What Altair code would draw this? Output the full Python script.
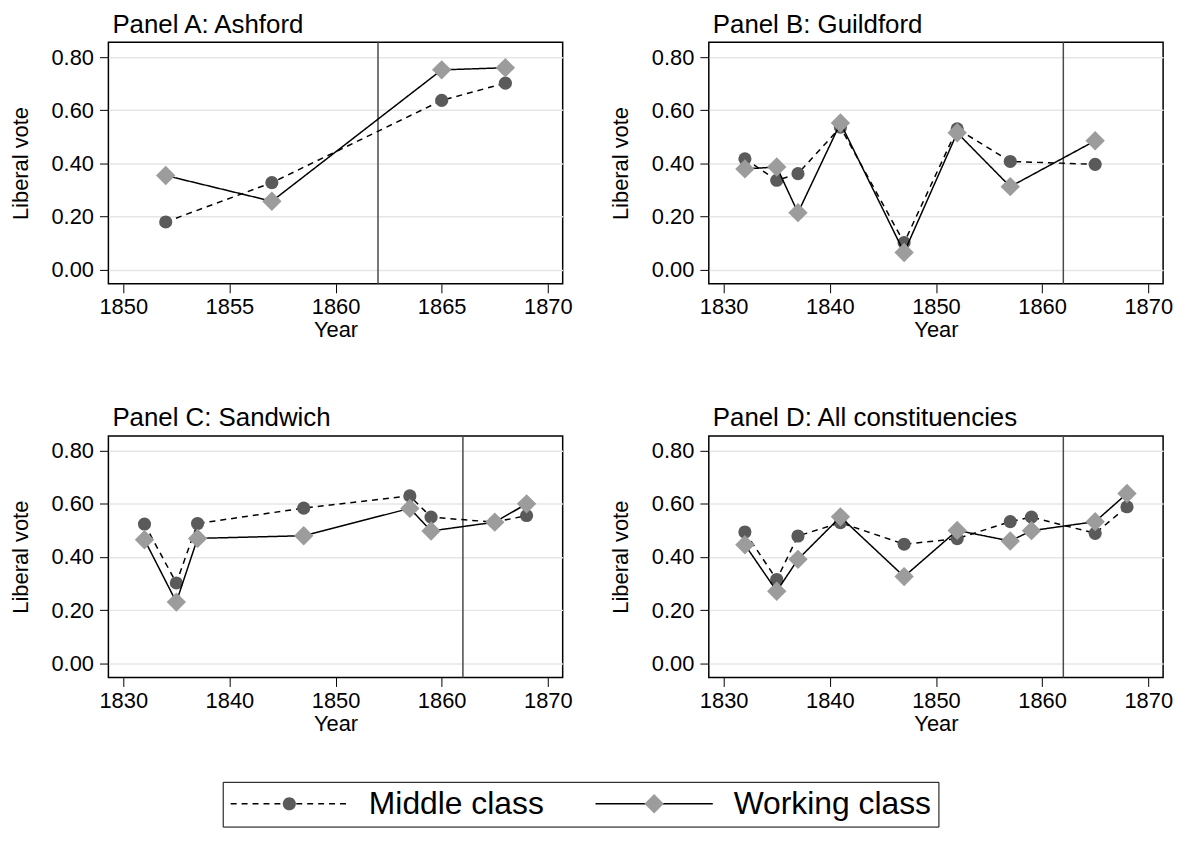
import altair as alt
import pandas as pd

series_names = ["Middle class", "Working class"]
panel_titles = ["Panel A: Ashford", "Panel B: Guildford",
                "Panel C: Sandwich", "Panel D: All constituencies"]
reform_year = 1862

a_years = [1852, 1857, 1865, 1868]
a_middle = [0.179, 0.327, 0.637, 0.702]
a_working = [0.354, 0.257, 0.752, 0.760]

b_years = [1832, 1835, 1837, 1841, 1847, 1852, 1857, 1865]
b_middle = [0.417, 0.336, 0.361, 0.536, 0.101, 0.530, 0.407, 0.396]
b_working = [0.379, 0.386, 0.214, 0.552, 0.064, 0.515, 0.312, 0.485]

c_years = [1832, 1835, 1837, 1847, 1857, 1859, 1865, 1868]
c_middle = [0.524, 0.302, 0.526, 0.584, 0.630, 0.550, 0.531, 0.556]
c_working = [0.465, 0.230, 0.470, 0.480, 0.583, 0.498, 0.531, 0.600]

d_years = [1832, 1835, 1837, 1841, 1847, 1852, 1857, 1859, 1865, 1868]
d_middle = [0.494, 0.315, 0.479, 0.529, 0.448, 0.469, 0.533, 0.550, 0.489, 0.589]
d_working = [0.446, 0.271, 0.391, 0.551, 0.326, 0.500, 0.460, 0.499, 0.533, 0.639]

x_ticks_a = [1850, 1855, 1860, 1865, 1870]
x_ticks_other = [1830, 1840, 1850, 1860, 1870]
y_ticks = [0.0, 0.2, 0.4, 0.6, 0.8]

FONT = "Liberation Sans"
MID_FILL = "#5a5a5a"
WORK_FILL = "#9c9c9c"

# legend symbol geometry (shared so the two overlaid legends line up)
LEG_SIZE = 118 * 118
LEG_X, LEG_Y = 115, 744
circle_path = "M-0.112,0A0.112,0.112,0,1,1,0.112,0A0.112,0.112,0,1,1,-0.112,0Z"
diamond_path = "M-0.165,0L0,-0.165L0.165,0L0,0.165Z"

common_leg = dict(orient="none", legendX=LEG_X, legendY=LEG_Y,
                  direction="horizontal", columns=2, title=None,
                  symbolSize=LEG_SIZE, symbolStrokeWidth=1.5, clipHeight=30,
                  labelFont=FONT, labelFontSize=32, labelColor="black", labelLimit=0,
                  labelOffset=20, columnPadding=50, padding=7,
                  labelExpr="trim(datum.label) + (datum.index == 1 ? '\u00a0\u00a0' : '')")

line_legend = alt.Legend(symbolType="stroke", strokeColor="black", **common_leg)
point_legend = alt.Legend(labelOpacity=0, symbolOpacity=1, zindex=1,
                          symbolStrokeColor="transparent", **common_leg)

dash_scale = alt.Scale(domain=series_names, range=[[6, 5], [1, 0]])
# a distinct (padded) domain keeps the marker legend separate from the line legend
legend_domain = [s + " " for s in series_names]


def panel(years, mid, work, title, xdomain, xticks, with_legend=False):
    df = pd.DataFrame({
        "year": years + years,
        "vote": mid + work,
        "series": [series_names[0]] * len(years) + [series_names[1]] * len(years),
    })
    x_enc = alt.X("year:Q", scale=alt.Scale(domain=xdomain, nice=False, zero=False),
                  axis=alt.Axis(values=xticks, format="d", title="Year"))
    y_enc = alt.Y("vote:Q", scale=alt.Scale(domain=[-0.054, 0.856], nice=False, zero=False),
                  axis=alt.Axis(values=y_ticks, format=".2f", title="Liberal vote", grid=True))
    base = alt.Chart(df)
    rule = alt.Chart(pd.DataFrame({"year": [reform_year]})).mark_rule(
        color="#4a4a4a", strokeWidth=1.5).encode(x=x_enc)
    layers = [rule]
    fills = [MID_FILL, WORK_FILL]
    shapes = ["circle", "diamond"]
    sizes = [175, 380]
    for i, s in enumerate(series_names):
        ln = base.transform_filter(alt.datum.series == s).mark_line(
            color="black", strokeWidth=1.5).encode(
            x=x_enc, y=y_enc,
            strokeDash=alt.StrokeDash("series:N", scale=dash_scale, legend=line_legend))
        pt = base.transform_filter(alt.datum.series == s).mark_point(
            shape=shapes[i], filled=True, size=sizes[i], color=fills[i], opacity=1,
            strokeWidth=0).encode(x=x_enc, y=y_enc)
        layers += [ln, pt]
    if with_legend:
        leg = base.transform_filter("false").transform_calculate(
            series_key="datum.series + ' '").mark_point(filled=True, opacity=1).encode(
            shape=alt.Shape("series_key:N", scale=alt.Scale(domain=legend_domain,
                                                            range=[circle_path, diamond_path]),
                            legend=point_legend),
            fill=alt.Fill("series_key:N", scale=alt.Scale(domain=legend_domain,
                                                          range=[MID_FILL, WORK_FILL]),
                          legend=point_legend),
        )
        layers.append(leg)
    return alt.layer(*layers).properties(
        width=457, height=243,
        title=alt.TitleParams(title, anchor="start", frame="group", fontSize=26,
                              fontWeight="normal", font=FONT, color="black",
                              baseline="alphabetic", offset=-17, dx=4),
    )


pa = panel(a_years, a_middle, a_working, panel_titles[0], [1849.3, 1870.7], x_ticks_a, True)
pb = panel(b_years, b_middle, b_working, panel_titles[1], [1828.6, 1871.4], x_ticks_other)
pc = panel(c_years, c_middle, c_working, panel_titles[2], [1828.6, 1871.4], x_ticks_other)
pd_ = panel(d_years, d_middle, d_working, panel_titles[3], [1828.6, 1871.4], x_ticks_other)

chart = alt.concat(pa, pb, pc, pd_, columns=2,
                   spacing=alt.RowColnumber(row=153, column=147),
                   bounds="flush").properties(
    padding={"left": 0, "top": 0, "right": 5, "bottom": 5},
    background="white",
).configure(font=FONT).configure_view(
    stroke="black", strokeWidth=1.5
).configure_axis(
    labelFont=FONT, labelFontSize=22, labelColor="black",
    titleFont=FONT, titleFontSize=22, titleFontWeight="normal", titleColor="black",
    tickColor="black", tickSize=9, tickWidth=1, domain=False,
    gridColor="#e6e6e6", gridWidth=1.5,
).configure_axisX(
    grid=False, labelPadding=4, titlePadding=2,
).configure_axisY(
    labelPadding=6, titlePadding=19,
)

chart.save("out.html", embed_options={"renderer": "svg", "actions": False})
